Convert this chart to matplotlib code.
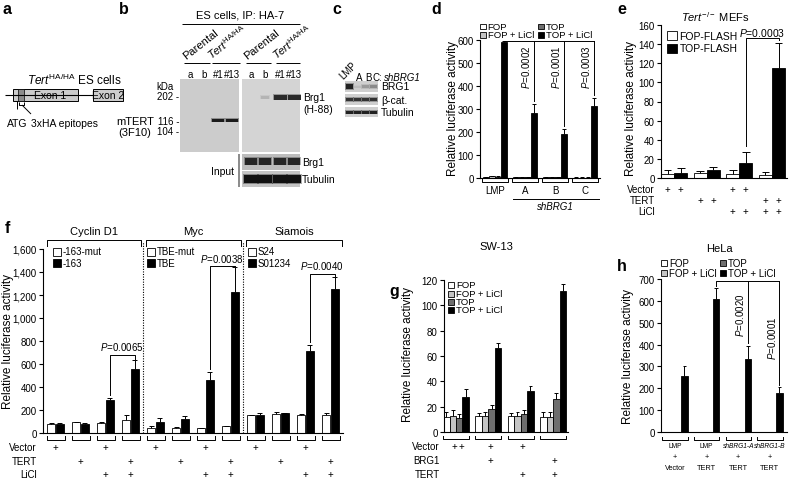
#!/usr/bin/env python3
"""
Figure composite: TERT / BRG1 panels a-h
Schema, blots et histogrammes de luciferase
"""

import numpy as np
import matplotlib
matplotlib.use('Agg')
import matplotlib.pyplot as plt
from matplotlib.patches import Rectangle
from matplotlib.transforms import blended_transform_factory

plt.rcParams['font.family'] = ['Liberation Sans', 'DejaVu Sans']
plt.rcParams['mathtext.fontset'] = 'custom'
plt.rcParams['mathtext.rm'] = 'Liberation Sans'
plt.rcParams['mathtext.it'] = 'Liberation Sans:italic'
plt.rcParams['mathtext.bf'] = 'Liberation Sans:bold'
plt.rcParams['axes.linewidth'] = 0.8

# ---------------- data ----------------
four_series = ['FOP', 'FOP + LiCl', 'TOP', 'TOP + LiCl']
four_colors = ['white', '#c4c4c4', '#6e6e6e', 'black']

# d : shBRG1
d_groups = ['LMP', 'A', 'B', 'C']
d_vals = [[5, 8, 6, 590], [3, 3, 3, 283], [3, 3, 3, 190], [2, 2, 2, 315]]
d_errs = [[1, 1, 1, 4], [1, 1, 1, 40], [1, 1, 1, 22], [1, 1, 1, 35]]
d_pvals = ['0.0002', '0.0001', '0.0003']

# e : Tert-/- MEFs
e_series = ['FOP-FLASH', 'TOP-FLASH']
e_fop = [4, 5, 4, 3]
e_fop_err = [4, 2, 4, 3]
e_top = [5, 8, 16, 115]
e_top_err = [5, 3, 11, 26]
e_rows = ['Vector', 'TERT', 'LiCl']
e_marks = [[1, 0, 1, 0], [0, 1, 0, 1], [0, 0, 1, 1]]
e_pval = '0.0003'

# f : promoteurs
f_promoters = ['Cyclin D1', 'Myc', 'Siamois']
f_legends = [('-163-mut', '-163'), ('TBE-mut', 'TBE'), ('S24', 'S01234')]
f_white = [80, 95, 85, 115, 45, 45, 40, 60, 155, 165, 155, 155]
f_white_err = [5, 3, 10, 40, 15, 5, 5, 5, 3, 15, 10, 15]
f_black = [80, 82, 285, 555, 95, 120, 465, 1230, 155, 170, 710, 1250]
f_black_err = [5, 3, 20, 80, 35, 30, 65, 210, 20, 5, 55, 110]
f_rows = ['Vector', 'TERT', 'LiCl']
f_marks = [[1, 0, 1, 0] * 3, [0, 1, 0, 1] * 3, [0, 0, 1, 1] * 3]
f_pvals = ['0.0065', '0.0038', '0.0040']
f_ptops = [680, 1450, 1385]

# g : SW-13
g_vals = [[12, 13, 11, 28], [13, 12.5, 18, 66.5], [12.5, 13, 14.5, 32.5], [11.5, 12, 26, 111]]
g_errs = [[4, 4, 3.5, 6], [2, 3, 3, 3.5], [2.5, 3, 2.5, 4], [4, 4, 5, 6]]
g_rows = ['Vector', 'BRG1', 'TERT']
g_marks = [[2, 1, 1, 0], [0, 1, 0, 1], [0, 0, 1, 1]]

# h : HeLa
h_vals = [[2, 2, 2, 255], [2, 2, 2, 610], [2, 2, 2, 335], [2, 2, 2, 180]]
h_errs = [[0, 0, 0, 48], [0, 0, 0, 50], [0, 0, 0, 60], [0, 0, 0, 25]]
h_labels = [('LMP', 'Vector'), ('LMP', 'TERT'), ('shBRG1-A', 'TERT'), ('shBRG1-B', 'TERT')]
h_pvals = ['0.0020', '0.0001']

YLAB = 'Relative luciferase activity'
TICK_FS = 7
ROW_FS = 7
YLAB_FS = 8.5

# ---------------- figure ----------------
W, H = 800, 485
fig = plt.figure(figsize=(W / 100, H / 100), dpi=100)
cv = fig.add_axes([0, 0, 1, 1])
cv.set_xlim(0, W)
cv.set_ylim(H, 0)
cv.axis('off')


def T(x, y, s, **kw):
    kw.setdefault('fontsize', 7.5)
    kw.setdefault('ha', 'center')
    kw.setdefault('va', 'center')
    cv.text(x, y, s, **kw)


def L(xs, ys, lw=0.7, color='black'):
    cv.plot(xs, ys, color=color, lw=lw, solid_capstyle='butt')


def R(x0, y0, x1, y1, fc, ec='none', lw=0):
    cv.add_patch(Rectangle((x0, y0), x1 - x0, y1 - y0, facecolor=fc,
                           edgecolor=ec, linewidth=lw))


def band(xc, yc, w, h, color):
    # bande de blot un peu floue
    R(xc - w / 2 - 0.8, yc - h / 2 - 0.8, xc + w / 2 + 0.8, yc + h / 2 + 0.8, color)
    cv.patches[-1].set_alpha(0.35)
    R(xc - w / 2, yc - h / 2, xc + w / 2, yc + h / 2, color)


def legend_box(x, y, color, label, size=6, fs=6.5, gap=2):
    R(x, y - size / 2, x + size, y + size / 2, color, ec='black', lw=0.6)
    T(x + size + gap, y, label, ha='left', fontsize=fs)


def chart(box, xlim, ylim, yticks, yticklabels=None):
    x0, y0, x1, y1 = box
    ax = fig.add_axes([x0 / W, 1 - y1 / H, (x1 - x0) / W, (y1 - y0) / H])
    ax.patch.set_alpha(0)
    ax.set_xlim(*xlim)
    ax.set_ylim(*ylim)
    ax.set_xticks([])
    ax.set_yticks(list(yticks))
    if yticklabels is not None:
        ax.set_yticklabels(yticklabels)
    for s in ('top', 'right'):
        ax.spines[s].set_visible(False)
    ax.tick_params(axis='y', length=3, width=0.8, labelsize=TICK_FS, pad=1.5)
    return ax


def yf(box, ypix):
    return (box[3] - ypix) / (box[3] - box[1])


def bars(ax, x, vals, errs, width, color):
    vals = np.asarray(vals, float)
    errs = np.asarray(errs, float)
    ax.bar(x, vals, width, color=color, edgecolor='black', linewidth=0.6, zorder=2)
    m = errs > 0
    top = vals + errs
    ax.vlines(x[m], vals[m], top[m], color='black', lw=0.7, zorder=3)
    ax.hlines(top[m], x[m] - width * 0.3, x[m] + width * 0.3, color='black', lw=0.7, zorder=3)


def under_brackets(ax, box, centers, hw, ypix, tick=3):
    tr = blended_transform_factory(ax.transData, ax.transAxes)
    yb, yt = yf(box, ypix), yf(box, ypix - tick)
    for c in centers:
        ax.plot([c - hw, c - hw, c + hw, c + hw], [yt, yb, yb, yt], transform=tr,
                color='black', lw=0.7, clip_on=False)


def atext(ax, box, x, ypix, s, **kw):
    tr = blended_transform_factory(ax.transData, ax.transAxes)
    kw.setdefault('fontsize', ROW_FS)
    kw.setdefault('ha', 'center')
    kw.setdefault('va', 'center')
    ax.text(x, yf(box, ypix), s, transform=tr, **kw)


def pline(ax, xs, ys):
    ax.plot(xs, ys, color='black', lw=0.7, clip_on=False, zorder=4)


# ---------------- panel labels ----------------
for lab, (x, y) in zip('abcdefgh', [(7, 9), (124, 9), (337, 10), (436, 9), (622, 9),
                                     (7, 229), (394, 292), (622, 267)]):
    T(x, y, lab, fontsize=11.5, fontweight='bold')

# ---------------- a : schema ----------------
T(27, 80, r'$\mathit{Tert}^{\rm HA/HA}$ ES cells', ha='left', fontsize=8.5)
L([5, 93], [96, 96], lw=0.8)
R(13, 90, 78, 102, '#cccccc', ec='black', lw=0.7)
R(18, 90, 24, 102, '#8c8c8c', ec='black', lw=0.5)
R(93, 90, 123, 102, '#cccccc', ec='black', lw=0.7)
T(50, 96, 'Exon 1', fontsize=7.5)
T(108, 96, 'Exon 2', fontsize=7.5)
L([17, 17], [102, 110])
L([19, 19, 24, 24], [103, 106, 106, 103])
L([22, 31], [106, 115])
T(17, 124, 'ATG', fontsize=7.5)
T(31, 124, '3xHA epitopes', ha='left', fontsize=7.5)

# ---------------- b : IP blot ----------------
T(240, 15, 'ES cells, IP: HA-7', fontsize=8)
L([182, 300], [25, 25])
for x0, x1 in [(184, 210), (212, 240), (246, 271), (276, 300)]:
    L([x0, x1], [64, 64])
for x, s in [(187, 'Parental'), (213, r'$\mathit{Tert}^{\rm HA/HA}$'),
             (248, 'Parental'), (278, r'$\mathit{Tert}^{\rm HA/HA}$')]:
    T(x, 62, s, rotation=38, ha='left', va='bottom', rotation_mode='anchor', fontsize=8)
lanes_l = [190, 204, 218, 232]
lanes_r = [251, 265, 280, 294]
for xs in (lanes_l, lanes_r):
    for x, s in zip(xs, ['a', 'b', '#1', '#13']):
        T(x, 75, s, fontsize=7)
R(180, 80, 239, 153, '#cccccc')
R(242, 80, 300, 153, '#d4d4d4')
R(242, 155, 300, 171, '#bdbdbd')
R(242, 172, 300, 188, '#c4c4c4')
for x in lanes_l[2:]:
    band(x, 121, 12, 3, '#1a1a1a')
band(lanes_r[1], 98, 8, 3, '#b4b4b4')
for x in lanes_r[2:]:
    band(x, 98, 13, 5, '#2a2a2a')
for x in lanes_r:
    band(x, 162, 12, 7, '#262626')
    band(x, 180, 14, 8, '#111111')
T(165, 87, 'kDa', fontsize=7)
for y, s in [(97, '202 -'), (122, '116 -'), (132, '104 -')]:
    T(179, y, s, ha='right', fontsize=7)
T(135, 122, 'mTERT', fontsize=8)
T(135, 133, '(3F10)', fontsize=8)
T(303, 98, 'Brg1', ha='left')
T(303, 110, '(H-88)', ha='left')
T(302, 163, 'Brg1', ha='left')
T(302, 180, 'Tubulin', ha='left')
T(234, 172, 'Input', ha='right')
L([238.5, 238.5], [155, 188], lw=1.2, color='#777777')

# ---------------- c : knockdown blot ----------------
c_lanes = [349.5, 357.5, 365.5, 373.5]
for y0, y1 in [(82, 93), (95, 106), (108, 118)]:
    R(345, y0, 378, y1, '#cfcfcf')
for x, col, h in zip(c_lanes, ['#222222', '#bdbdbd', '#9a9a9a', '#8a8a8a'], [5, 2, 3, 3]):
    band(x, 87.5, 7, h, col)
for x in c_lanes:
    band(x, 100.5, 7, 3, '#333333')
    band(x, 113, 7, 3, '#222222')
T(345, 81, 'LMP', rotation=45, ha='left', va='bottom', rotation_mode='anchor', fontsize=7)
for x, s in zip([359, 368, 377], ['A', 'B', 'C:']):
    T(x, 78, s, fontsize=7)
T(384, 78, 'shBRG1', ha='left', fontsize=7, fontstyle='italic')
T(381, 87.5, 'BRG1', ha='left')
T(381, 100.5, 'β-cat.', ha='left')
T(381, 113, 'Tubulin', ha='left')

# ---------------- d ----------------
box_d = (480, 41, 600, 179)
ax = chart(box_d, (-0.5, 3.5), (0, 600), range(0, 601, 100))
off4 = np.array([-0.3, -0.1, 0.1, 0.3])
xg = np.arange(len(d_groups))
dv, de = np.array(d_vals), np.array(d_errs)
for j, col in enumerate(four_colors):
    bars(ax, xg + off4[j], dv[:, j], de[:, j], 0.2, col)
ytop = 597
pline(ax, [0.3, 3.3], [ytop, ytop])
for i in range(1, 4):
    xb = i + 0.3
    pline(ax, [xb, xb], [ytop, dv[i, 3] + de[i, 3] + 12])
    ax.text(xb - 0.06, 582, '$P$=' + d_pvals[i - 1], rotation=90, ha='right', va='top', fontsize=7)
under_brackets(ax, box_d, xg, 0.42, 183)
for i, g in enumerate(d_groups):
    atext(ax, box_d, i, 191, g)
tr = blended_transform_factory(ax.transData, ax.transAxes)
ax.plot([0.6, 3.45], [yf(box_d, 200)] * 2, transform=tr, color='black', lw=0.7, clip_on=False)
atext(ax, box_d, 2, 207, 'shBRG1', fontstyle='italic')
for (x, y), col, lab in zip([(480, 27.5), (480, 36), (538, 27.5), (538, 36)], four_colors, four_series):
    legend_box(x, y, col, lab, size=5.5, fs=6.8)
T(453, 109, YLAB, rotation=90, fontsize=YLAB_FS)

# ---------------- e ----------------
box_e = (661, 26, 787, 179)
ax = chart(box_e, (-0.4, 3.46), (0, 160), range(0, 161, 20))
xg = np.arange(len(e_fop))
bars(ax, xg - 0.2, e_fop, e_fop_err, 0.4, 'white')
bars(ax, xg + 0.2, e_top, e_top_err, 0.4, 'black')
pline(ax, [2.2, 2.2, 3.2, 3.2], [e_top[2] + e_top_err[2] + 6, 146, 146, e_top[3] + e_top_err[3] + 3])
ax.text(2.7, 153, '$P$=' + e_pval, ha='center', va='center', fontsize=7.5)
for r, (lab, marks) in enumerate(zip(e_rows, e_marks)):
    ypix = 190 + 11 * r
    T(655, ypix, lab, ha='right', fontsize=ROW_FS)
    for i, m in enumerate(marks):
        if m:
            atext(ax, box_e, i - 0.2, ypix, '+')
            atext(ax, box_e, i + 0.2, ypix, '+')
legend_box(667, 36.5, 'white', e_series[0], size=9.5, fs=7.5, gap=3)
legend_box(667, 49.5, 'black', e_series[1], size=9.5, fs=7.5, gap=3)
T(715, 17, r'$\mathit{Tert}^{-/-}$ MEFs', fontsize=8)
T(631, 108, YLAB, rotation=90, fontsize=YLAB_FS)

# ---------------- f ----------------
box_f = (43, 250, 343, 434)
f_ticks = list(range(0, 1601, 200))
ax = chart(box_f, (-0.5, 11.5), (0, 1600), f_ticks, [f'{v:,}' for v in f_ticks])
xg = np.arange(len(f_white))
bars(ax, xg - 0.17, f_white, f_white_err, 0.33, 'white')
bars(ax, xg + 0.17, f_black, f_black_err, 0.33, 'black')
for xs in (3.5, 7.5):
    ax.plot([xs, xs], [0, 1665], color='black', lw=0.8, ls=(0, (1, 1.3)), clip_on=False)
tr = blended_transform_factory(ax.transData, ax.transAxes)
f_spans = [(-0.35, 3.42), (3.62, 7.42), (7.62, 11.45)]
for (a0, a1), name in zip(f_spans, f_promoters):
    ax.plot([a0, a0, a1, a1], [yf(box_f, 247), yf(box_f, 241), yf(box_f, 241), yf(box_f, 247)],
            transform=tr, color='black', lw=0.7, clip_on=False)
    atext(ax, box_f, (a0 + a1) / 2, 232, name, fontsize=8)
for k, (xl, (l1, l2)) in enumerate(zip([53, 147, 248], f_legends)):
    legend_box(xl, 252.5, 'white', l1, size=8, fs=7)
    legend_box(xl, 264, 'black', l2, size=8, fs=7)
for k in range(3):
    i3, i4 = 4 * k + 2, 4 * k + 3
    x3, x4 = i3 + 0.17, i4 + 0.17
    pline(ax, [x3, x3, x4, x4], [f_black[i3] + f_black_err[i3] + 25, f_ptops[k], f_ptops[k],
                                 f_black[i4] + f_black_err[i4] + 8])
    ax.text((x3 + x4) / 2, f_ptops[k] + 75, '$P$=' + f_pvals[k], ha='center', va='center', fontsize=7)
under_brackets(ax, box_f, xg, 0.36, 441, tick=4)
for r, (lab, marks) in enumerate(zip(f_rows, f_marks)):
    ypix = [448, 462, 475][r]
    T(37, ypix, lab, ha='right', fontsize=ROW_FS)
    for i, m in enumerate(marks):
        if m:
            atext(ax, box_f, i, ypix, '+')
T(8, 342, YLAB, rotation=90, fontsize=YLAB_FS)

# ---------------- g ----------------
box_g = (444, 281, 568, 433)
ax = chart(box_g, (-0.37, 3.46), (0, 120), range(0, 121, 20))
xg = np.arange(len(g_vals))
gv, ge = np.array(g_vals), np.array(g_errs)
for j, col in enumerate(four_colors):
    bars(ax, xg + off4[j], gv[:, j], ge[:, j], 0.2, col)
under_brackets(ax, box_g, xg, 0.4, 440)
for r, (lab, marks) in enumerate(zip(g_rows, g_marks)):
    ypix = [447, 461, 475][r]
    T(440, ypix, lab, ha='right', fontsize=ROW_FS)
    for i, m in enumerate(marks):
        if m == 1:
            atext(ax, box_g, i + 0.05, ypix, '+')
        elif m == 2:
            atext(ax, box_g, i - 0.06, ypix, '+')
            atext(ax, box_g, i + 0.16, ypix, '+')
for y, col, lab in zip([285.5, 294.5, 302.5, 311], four_colors, four_series):
    legend_box(448, y, col, lab, size=6, fs=6.8)
T(496, 247, 'SW-13', fontsize=8)
T(408, 355, YLAB, rotation=90, fontsize=YLAB_FS)

# ---------------- h ----------------
box_h = (661, 280, 787, 433)
ax = chart(box_h, (-0.44, 3.54), (0, 700), range(0, 701, 100))
xg = np.arange(len(h_vals))
hv, he = np.array(h_vals), np.array(h_errs)
for j, col in enumerate(four_colors):
    bars(ax, xg + off4[j], hv[:, j], he[:, j], 0.2, col)
ytop = 690
pline(ax, [1.3, 1.3, 3.3], [hv[1, 3] + he[1, 3] + 8, ytop, ytop])
for i, ttop in zip((2, 3), (640, 535)):
    xb = i + 0.3
    pline(ax, [xb, xb], [ytop, hv[i, 3] + he[i, 3] + 10])
    ax.text(xb - 0.06, ttop, '$P$=' + h_pvals[i - 2], rotation=90, ha='right', va='top', fontsize=7)
under_brackets(ax, box_h, xg, 0.4, 441)
for i, (l1, l2) in enumerate(h_labels):
    st = 'italic' if l1.startswith('sh') else 'normal'
    atext(ax, box_h, i, 447, l1, fontsize=4.8, fontstyle=st)
    atext(ax, box_h, i, 458, '+', fontsize=5.3)
    atext(ax, box_h, i, 469, l2, fontsize=5.3)
for (x, y), col, lab in zip([(661, 264), (661, 274), (720, 264), (720, 274)], four_colors, four_series):
    legend_box(x, y, col, lab, size=6, fs=7)
T(719, 249, 'HeLa', fontsize=8)
T(628, 357, YLAB, rotation=90, fontsize=YLAB_FS)

fig.savefig('out.png', dpi=100)
